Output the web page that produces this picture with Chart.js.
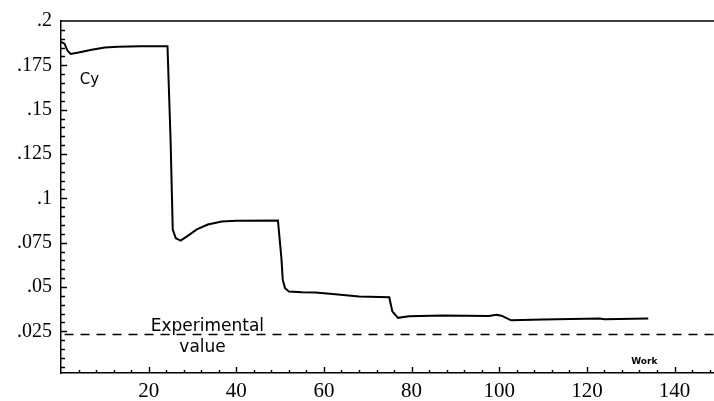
<!DOCTYPE html>
<html>
<head>
<meta charset="utf-8">
<script src="https://cdn.jsdelivr.net/npm/chart.js@4.4.1/dist/chart.umd.min.js"></script>
<style>
  html, body { margin: 0; padding: 0; background: #fff; }
</style>
</head>
<body>
<canvas id="cyChart" width="714" height="401"></canvas>
<script>
/* =========================
   DATA
========================= */

// Cy against work
const workValues = [
  0, 0.8, 1.5, 2.2, 4, 7, 10, 13, 18, 24.3,
  25.0, 25.5, 26.2, 27.3, 29, 31, 33.5, 36.7, 40, 49.5,
  50.3, 50.6, 51.1, 52, 55, 58, 62, 68, 74.9, 75.6,
  76.9, 79.4, 87, 97.7, 99.3, 100.5, 102.7, 110, 122.9, 124,
  134
];
const cyValues = [
  .1882, .1872, .1832, .1814, .1822, .1838, .1850, .1855, .1857, .1857,
  .133, .0824, .0775, .0762, .0790, .0825, .0852, .0869, .0873, .0875,
  .066, .054, .0495, .0474, .0470, .0469, .0460, .0446, .0442, .0363,
  .0326, .0335, .0339, .0336, .0344, .0338, .0312, .0316, .0322, .0318,
  .0322
];

// experimental value (dashed)
const expWork = [0.8, 149];
const expCy = [.0232, .0232];

// axes
const xTickValues = [20, 40, 60, 80, 100, 120, 140];
const yTickValues = [.025, .05, .075, .1, .125, .15, .175, .2];
const yTickLabels = ['.025', '.05', '.075', '.1', '.125', '.15', '.175', '.2'];

/* =========================
   INSIDE TICKS + NOTES
========================= */

const plotExtras = {
  id: 'plotExtras',
  afterDraw(chart) {
    const { ctx, chartArea: a, scales: { x, y } } = chart;
    ctx.save();
    ctx.strokeStyle = '#000';
    ctx.lineWidth = 1.4;
    ctx.beginPath();
    // top frame line
    ctx.moveTo(a.left, a.top);
    ctx.lineTo(a.right, a.top);
    // y ticks every .005, pointing right
    for (let i = 1; i < 40; i++) {
      const py = Math.round(y.getPixelForValue(i * 0.005)) + 0.5;
      const len = i % 5 === 0 ? 6 : 4;
      ctx.moveTo(a.left, py);
      ctx.lineTo(a.left + len, py);
    }
    // x ticks every 4, pointing up
    for (let i = 1; i * 4 < 149; i++) {
      const px = Math.round(x.getPixelForValue(i * 4)) + 0.5;
      const len = (i * 4) % 20 === 0 ? 6 : 3;
      ctx.moveTo(px, a.bottom);
      ctx.lineTo(px, a.bottom - len);
    }
    ctx.stroke();

    ctx.fillStyle = '#000';
    ctx.textAlign = 'center';
    ctx.textBaseline = 'middle';
    ctx.font = '15px "DejaVu Sans"';
    ctx.fillText('Cy', x.getPixelForValue(6.5), y.getPixelForValue(.1668));
    ctx.font = '17px "DejaVu Sans"';
    ctx.fillText('Experimental', x.getPixelForValue(33.4), y.getPixelForValue(.0278));
    ctx.fillText('value', x.getPixelForValue(32.3), y.getPixelForValue(.0160));
    ctx.font = 'bold 9px "DejaVu Sans"';
    ctx.fillText('Work', x.getPixelForValue(133.1), y.getPixelForValue(.0081));
    ctx.restore();
  }
};

/* =========================
   CHART
========================= */

const ctx = document.getElementById('cyChart').getContext('2d');

new Chart(ctx, {
  type: 'line',
  data: {
    datasets: [
      {
        data: workValues.map((w, i) => ({ x: w, y: cyValues[i] })),
        borderColor: '#000',
        borderWidth: 2,
        pointRadius: 0,
        tension: 0
      },
      {
        data: expWork.map((w, i) => ({ x: w, y: expCy[i] })),
        borderColor: '#000',
        borderWidth: 1.5,
        borderDash: [9, 7],
        pointRadius: 0
      }
    ]
  },
  options: {
    responsive: false,
    animation: false,
    layout: { padding: { top: 21, left: 0, right: 0, bottom: 0 } },
    plugins: { legend: { display: false }, tooltip: { enabled: false } },
    scales: {
      x: {
        type: 'linear',
        min: 0,
        max: 149,
        grid: { display: false, drawTicks: false },
        border: { display: true, color: '#000', width: 1.5 },
        ticks: {
          color: '#000',
          padding: 6,
          maxRotation: 0,
          font: { family: '"Liberation Serif"', size: 21 }
        },
        afterBuildTicks: s => { s.ticks = xTickValues.map(v => ({ value: v })); },
        afterFit: s => { s.height = 28; }
      },
      y: {
        min: 0.0015,
        max: 0.2,
        grid: { display: false, drawTicks: false },
        border: { display: true, color: '#000', width: 1.5 },
        ticks: {
          color: '#000',
          padding: 9,
          font: { family: '"Liberation Serif"', size: 20 },
          callback: (v, i) => yTickLabels[i]
        },
        afterBuildTicks: s => { s.ticks = yTickValues.map(v => ({ value: v })); },
        afterFit: s => { s.width = 61; }
      }
    }
  },
  plugins: [plotExtras]
});
</script>
</body>
</html>
